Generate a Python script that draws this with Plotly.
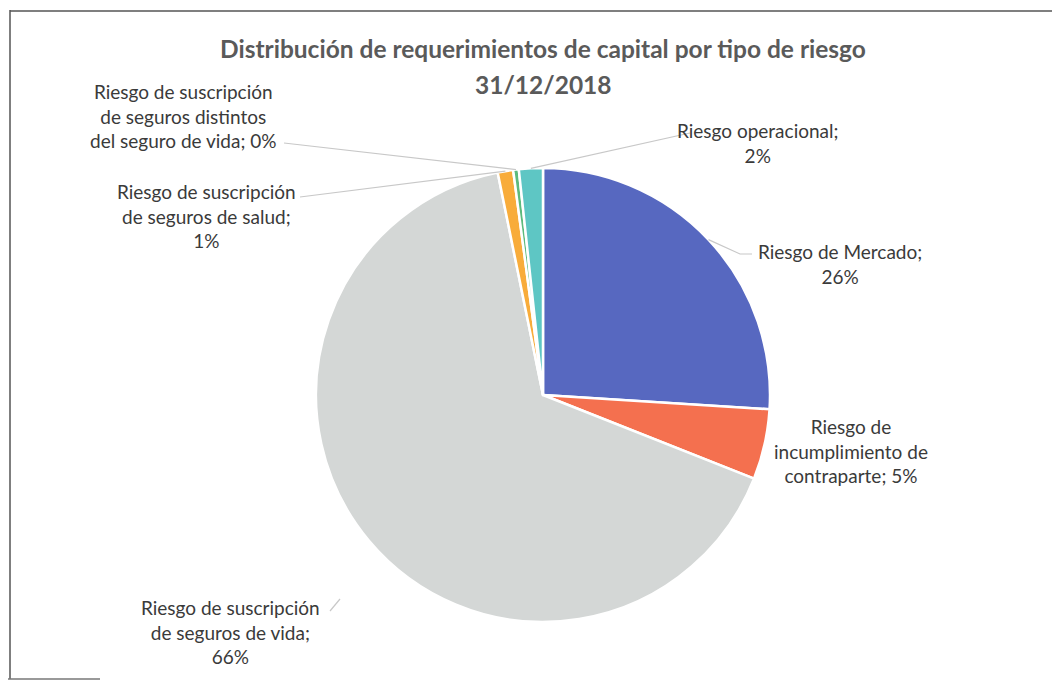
import math
import plotly.graph_objects as go

# ---- data ----
categories = [
    "Riesgo de Mercado",
    "Riesgo de incumplimiento de contraparte",
    "Riesgo de suscripción de seguros de vida",
    "Riesgo de suscripción de seguros de salud",
    "Riesgo de suscripción de seguros distintos del seguro de vida",
    "Riesgo operacional",
]
values = [26.0, 5.0, 65.8, 1.1, 0.4, 1.7]
label_text = [
    "Riesgo de Mercado;<br>{p}",
    "Riesgo de<br>incumplimiento de<br>contraparte; {p}",
    "Riesgo de suscripción<br>de seguros de vida;<br>{p}",
    "Riesgo de suscripción<br>de seguros de salud;<br>{p}",
    "Riesgo de suscripción<br>de seguros distintos<br>del seguro de vida; {p}",
    "Riesgo operacional;<br>{p}",
]
colors = ["#5768C0", "#F4704F", "#D4D7D6", "#F8AC3A", "#5DBA7C", "#5EC6C4"]
title_line1 = "Distribución de requerimientos de capital por tipo de riesgo"
title_line2 = "31/12/2018"

OFF = 8                      # page body margin
W, H = 1044, 672             # figure size (fits the window with body margin)
CX, CY, R = 543, 395, 227    # pie centre / radius in window pixels


def px(x):
    return (x - OFF) / W


def py(y):
    return 1 - (y - OFF) / H


fig = go.Figure()
fig.add_trace(go.Pie(
    labels=categories,
    values=values,
    sort=False,
    direction="clockwise",
    rotation=0,
    marker=dict(colors=colors, line=dict(color="white", width=2.5)),
    textinfo="none",
    hoverinfo="label+percent",
    domain=dict(x=[px(CX - R), px(CX + R)], y=[py(CY + R), py(CY - R)]),
    showlegend=False,
))

total = sum(values)
pcts = [f"{round(v / total * 100):d}%" for v in values]

# label placement (centre x, centre y of text block) in window pixels
label_pos = [(840, 264), (851, 451), (230, 632), (206, 216), (183, 116), (757, 143)]
# label end where leader starts; None = no leader
leader_start = [(752, 254), None, (330, 611), (300, 197), (284, 143), (690, 133)]

font_family = "Lato, 'Open Sans', sans-serif"
annotations = []
for i, (txt, (lx, ly)) in enumerate(zip(label_text, label_pos)):
    annotations.append(dict(
        x=px(lx), y=py(ly), xref="paper", yref="paper",
        text=txt.format(p=pcts[i]), showarrow=False,
        font=dict(family=font_family, size=19, color="#3A3A3A"),
        align="center", xanchor="center", yanchor="middle",
    ))

annotations.append(dict(
    x=px(543), y=py(48), xref="paper", yref="paper",
    text=f"<b>{title_line1}</b>", showarrow=False,
    font=dict(family=font_family, size=24.5, color="#5A5A5A"),
    xanchor="center", yanchor="middle",
))
annotations.append(dict(
    x=px(543), y=py(84), xref="paper", yref="paper",
    text=f"<b>{title_line2}</b>", showarrow=False,
    font=dict(family=font_family, size=24.5, color="#5A5A5A"),
    xanchor="center", yanchor="middle",
))

# leader lines from label to slice mid-angle on the pie edge
shapes = []
cum = 0
for i, v in enumerate(values):
    mid = (cum + v / 2) / total * 2 * math.pi
    cum += v
    s = leader_start[i]
    if s is None:
        continue
    ex = CX + R * math.sin(mid)
    ey = CY - R * math.cos(mid)
    if i == 2:
        ex, ey = s[0] + 10, s[1] - 12   # vida: short hook only
    pts = [s]
    if i == 0:
        pts.append((s[0] - 12, s[1]))
    pts.append((ex, ey))
    path = "M " + " L ".join(f"{px(a)},{py(b)}" for a, b in pts)
    shapes.append(dict(type="path", xref="paper", yref="paper", path=path,
                       line=dict(color="#C8C8C8", width=1.2)))

# chart frame
shapes.append(dict(type="line", xref="paper", yref="paper",
                   x0=px(10), y0=py(11), x1=px(1052), y1=py(11),
                   line=dict(color="#555555", width=1.6)))
shapes.append(dict(type="line", xref="paper", yref="paper",
                   x0=px(10), y0=py(10), x1=px(10), y1=py(679),
                   line=dict(color="#555555", width=1.5)))
shapes.append(dict(type="line", xref="paper", yref="paper",
                   x0=px(8), y0=py(679), x1=px(100), y1=py(679),
                   line=dict(color="#777777", width=1.5)))

fig.update_layout(
    width=W, height=H,
    margin=dict(l=0, r=0, t=0, b=0),
    paper_bgcolor="white",
    plot_bgcolor="white",
    annotations=annotations,
    shapes=shapes,
)

fig.write_html("out.html", config={"displayModeBar": False})
